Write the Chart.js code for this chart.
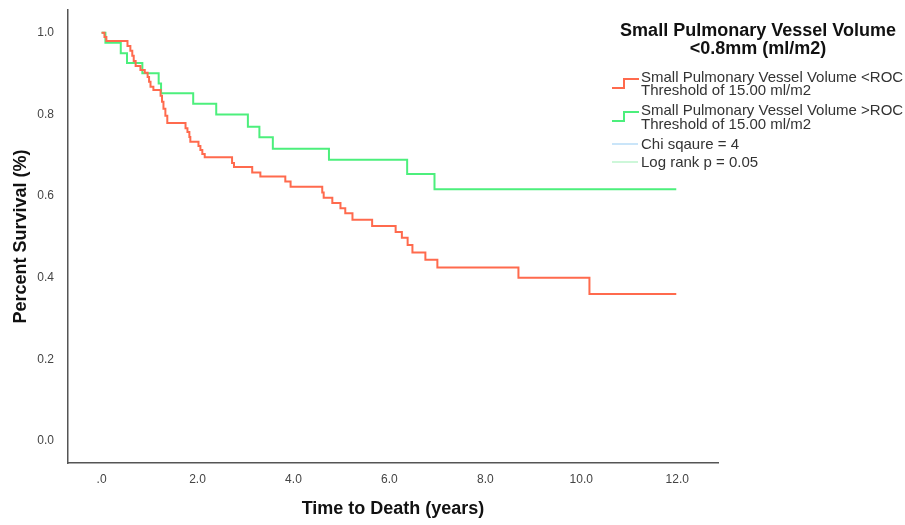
<!DOCTYPE html>
<html>
<head>
<meta charset="utf-8">
<script src="https://cdn.jsdelivr.net/npm/chart.js@4"></script>
<style>
  html, body { margin: 0; padding: 0; background: #fff; }
</style>
</head>
<body>
<canvas id="myChart" width="905" height="525"></canvas>
<script>
// Kaplan-Meier steps: time (years) at which survival drops to the given value
const lowTimes = [0, 0.06, 0.10, 0.54, 0.60, 0.64, 0.67, 0.71, 0.81, 0.90, 0.96, 0.99, 1.02,
    1.08, 1.23, 1.26, 1.29, 1.33, 1.37, 1.75, 1.79, 1.83, 1.85, 2.02, 2.06, 2.10, 2.15, 2.72,
    2.76, 3.14, 3.31, 3.83, 3.94, 4.60, 4.63, 4.81, 4.98, 5.08, 5.23, 5.64, 6.13, 6.26, 6.38,
    6.48, 6.75, 7.00, 8.69, 10.17, 11.98];
const lowSurv = [1.0, 0.990, 0.980, 0.968, 0.956, 0.944, 0.931, 0.919, 0.909, 0.902, 0.892, 0.880, 0.868,
    0.860, 0.846, 0.831, 0.814, 0.797, 0.779, 0.766, 0.757, 0.745, 0.733, 0.723, 0.713, 0.703, 0.695, 0.681,
    0.671, 0.658, 0.648, 0.636, 0.623, 0.609, 0.596, 0.583, 0.570, 0.558, 0.542, 0.527, 0.512, 0.498, 0.480,
    0.462, 0.444, 0.425, 0.400, 0.360, 0.360];

const highTimes = [0, 0.08, 0.40, 0.53, 0.85, 1.19, 1.24, 1.91, 2.39, 3.05, 3.29, 3.57, 4.74, 6.37, 6.94, 11.98];
const highSurv = [1.0, 0.976, 0.950, 0.926, 0.901, 0.876, 0.852, 0.826, 0.800, 0.770, 0.744, 0.716, 0.689, 0.654, 0.617, 0.617];

const xTickValues = [0, 2, 4, 6, 8, 10, 12];
const xTickLabels = ['.0', '2.0', '4.0', '6.0', '8.0', '10.0', '12.0'];
const yTickValues = [0, 0.2, 0.4, 0.6, 0.8, 1.0];
const yTickLabels = ['0.0', '0.2', '0.4', '0.6', '0.8', '1.0'];

const legendTitle = ['Small Pulmonary Vessel Volume', '<0.8mm (ml/m2)'];
const seriesLabels = [
    ['Small Pulmonary Vessel Volume <ROC', 'Threshold of 15.00 ml/m2'],
    ['Small Pulmonary Vessel Volume >ROC', 'Threshold of 15.00 ml/m2']
];
const statLabels = ['Chi sqaure = 4', 'Log rank p = 0.05'];

const lowColor = '#ff6a4d';
const highColor = '#4cef7c';
const statColors = ['#b9dcf7', '#bdf5cc'];
const FONT = 'Arial, "Liberation Sans", sans-serif';

function toPoints(times, surv) {
    return times.map((t, i) => ({ x: t, y: surv[i] }));
}

// legend drawn by hand, SPSS style (step icons + stats lines)
const kmLegend = {
    id: 'kmLegend',
    afterDraw(chart) {
        const c = chart.ctx;
        c.save();
        c.textBaseline = 'middle';
        c.fillStyle = '#111';
        c.textAlign = 'center';
        c.font = 'bold 18px ' + FONT;
        c.fillText(legendTitle[0], 758, 31);
        c.fillText(legendTitle[1], 758, 49);

        c.textAlign = 'left';
        c.font = '15px ' + FONT;
        c.lineWidth = 2;
        const rows = [[78, 91], [111, 125]];
        [lowColor, highColor].forEach((col, i) => {
            const y0 = rows[i][0], y1 = rows[i][1];
            c.strokeStyle = col;
            c.beginPath();
            c.moveTo(612, y0 + 10);
            c.lineTo(624, y0 + 10);
            c.lineTo(624, y0 + 1);
            c.lineTo(639, y0 + 1);
            c.stroke();
            c.fillStyle = '#333';
            c.fillText(seriesLabels[i][0], 641, y0);
            c.fillText(seriesLabels[i][1], 641, y1);
        });
        const sy = [145, 163];
        statLabels.forEach((txt, i) => {
            c.strokeStyle = statColors[i];
            c.lineWidth = 1.5;
            c.beginPath();
            c.moveTo(612, sy[i] - 1);
            c.lineTo(638, sy[i] - 1);
            c.stroke();
            c.fillStyle = '#333';
            c.fillText(txt, 641, sy[i]);
        });
        c.restore();
    }
};

const ctx = document.getElementById('myChart');

new Chart(ctx, {
    type: 'line',
    data: {
        datasets: [{
            label: seriesLabels[0].join(' '),
            data: toPoints(lowTimes, lowSurv),
            borderColor: lowColor,
            borderWidth: 2,
            stepped: 'before',
            pointRadius: 0
        },
        {
            label: seriesLabels[1].join(' '),
            data: toPoints(highTimes, highSurv),
            borderColor: highColor,
            borderWidth: 2,
            stepped: 'before',
            pointRadius: 0
        }]
    },
    options: {
        responsive: false,
        animation: false,
        layout: {
            padding: { top: 10, right: 187, left: 0, bottom: 0 }
        },
        plugins: {
            legend: { display: false },
            tooltip: { enabled: false }
        },
        scales: {
            x: {
                type: 'linear',
                min: -0.70,
                max: 12.85,
                grid: { display: false, drawTicks: false },
                border: { display: true, color: '#555', width: 1.5 },
                afterBuildTicks: scale => {
                    scale.ticks = xTickValues.map(v => ({ value: v }));
                },
                afterFit: scale => {
                    scale.height = 62;
                    scale.paddingLeft = 0;
                    scale.paddingRight = 0;
                },
                ticks: {
                    padding: 9,
                    color: '#444',
                    font: { family: FONT, size: 12 },
                    callback: function(value, index) {
                        return xTickLabels[index];
                    }
                },
                title: {
                    display: true,
                    text: 'Time to Death (years)',
                    color: '#111',
                    padding: { top: 0, bottom: 5 },
                    font: { family: FONT, size: 18, weight: 'bold' }
                }
            },
            y: {
                min: -0.054,
                max: 1.056,
                grid: { display: false, drawTicks: false },
                border: { display: true, color: '#555', width: 1.5 },
                afterBuildTicks: scale => {
                    scale.ticks = yTickValues.map(v => ({ value: v }));
                },
                afterFit: scale => {
                    scale.width = 68;
                    scale.paddingTop = 0;
                    scale.paddingBottom = 0;
                },
                ticks: {
                    padding: 14,
                    color: '#444',
                    font: { family: FONT, size: 12 },
                    callback: function(value, index) {
                        return yTickLabels[index];
                    }
                },
                title: {
                    display: true,
                    text: 'Percent Survival (%)',
                    color: '#111',
                    padding: { top: 10, bottom: 0 },
                    font: { family: FONT, size: 18, weight: 'bold' }
                }
            }
        }
    },
    plugins: [kmLegend]
});
</script>
</body>
</html>
